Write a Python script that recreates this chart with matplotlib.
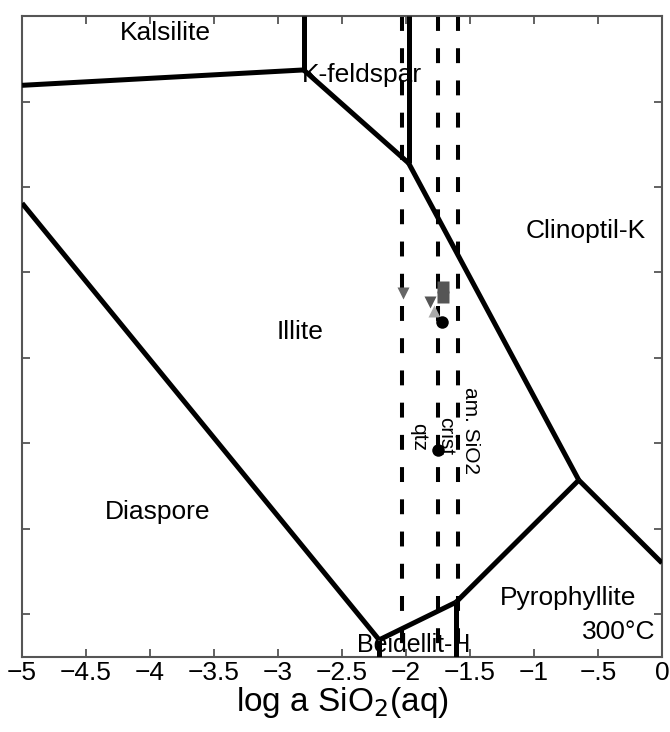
import numpy as np
import matplotlib.pyplot as plt

plt.rcParams['font.family'] = ['Liberation Sans', 'DejaVu Sans']

# phase boundaries (log a SiO2, log aK+/aH+)
kals_kfs_x = [-5.0, -2.80]
kals_kfs_y = [8.19, 8.37]
kals_top_x = [-2.80, -2.80]
kals_top_y = [8.37, 9.0]
kfs_ill_x = [-2.80, -1.98]
kfs_ill_y = [8.37, 7.28]
kfs_clin_x = [-1.98, -1.98]
kfs_clin_y = [7.28, 9.0]
ill_clin_x = [-1.98, -0.65]
ill_clin_y = [7.28, 3.57]
clin_pyr_x = [-0.65, 0.0]
clin_pyr_y = [3.57, 2.60]
ill_pyr_x = [-0.65, -1.61]
ill_pyr_y = [3.57, 2.14]
ill_beid_x = [-1.61, -2.21]
ill_beid_y = [2.14, 1.70]
beid_pyr_x = [-1.61, -1.61]
beid_pyr_y = [2.14, 1.5]
dia_beid_x = [-2.21, -2.21]
dia_beid_y = [1.70, 1.5]
dia_ill_x = [-5.0, -2.21]
dia_ill_y = [6.81, 1.70]

# silica saturation lines
sat_names = ['qtz', 'crist', 'am. SiO2']
sat_x = [-2.03, -1.75, -1.59]

# samples
tri_dn_x, tri_dn_y = [-2.02], [5.76]
sq_x, sq_y = [-1.71, -1.71], [5.83, 5.71]
tri_dk_x, tri_dk_y = [-1.81], [5.65]
tri_up_x, tri_up_y = [-1.78], [5.55]
circ_x, circ_y = [-1.72, -1.75], [5.42, 3.92]

xticks = np.arange(-5, 0.01, 0.5)
xtick_labels = ['−5', '−4.5', '−4', '−3.5', '−3', '−2.5', '−2', '−1.5', '−1', '−.5', '0']
yticks = [2, 3, 4, 5, 6, 7, 8]

fig = plt.figure(figsize=(6.7, 7.32), dpi=100)
ax = fig.add_axes([0.033, 0.1025, 0.955, 0.8755])

for xs, ys in [(kals_kfs_x, kals_kfs_y), (kals_top_x, kals_top_y), (kfs_ill_x, kfs_ill_y),
               (kfs_clin_x, kfs_clin_y), (ill_clin_x, ill_clin_y), (clin_pyr_x, clin_pyr_y),
               (ill_pyr_x, ill_pyr_y), (ill_beid_x, ill_beid_y), (beid_pyr_x, beid_pyr_y),
               (dia_beid_x, dia_beid_y), (dia_ill_x, dia_ill_y)]:
    ax.plot(xs, ys, color='black', lw=3.6, solid_capstyle='butt', clip_on=True, zorder=3)

for x in sat_x:
    ax.plot([x, x], [9.0, 1.5], color='black', lw=2.9, dashes=(3.7, 4.3),
            dash_capstyle='butt', zorder=2)

ax.text(-1.90, 4.07, sat_names[0], rotation=270, fontsize=15, ha='center', va='center')
ax.text(-1.69, 4.08, sat_names[1], rotation=270, fontsize=15, ha='center', va='center')
ax.text(-1.50, 4.15, sat_names[2], rotation=270, fontsize=15, ha='center', va='center')

ax.plot(tri_dn_x, tri_dn_y, 'v', color='#666666', ms=9, mec='none', zorder=4)
ax.plot(sq_x, sq_y, 's', color='#555555', ms=9, mec='none', zorder=4)
ax.plot(tri_dk_x, tri_dk_y, 'v', color='#555555', ms=9, mec='none', zorder=4)
ax.plot(tri_up_x, tri_up_y, '^', color='#aaaaaa', ms=9, mec='none', zorder=4)
ax.plot(circ_x, circ_y, 'o', color='black', ms=9, mec='none', zorder=5)

lab = dict(fontsize=19, ha='center', va='center', zorder=6)
ax.text(-3.88, 8.8, 'Kalsilite', **lab)
ax.text(-2.81, 8.31, 'K-feldspar', fontsize=19, ha='left', va='center', zorder=6)
ax.text(-0.595, 6.49, 'Clinoptil-K', **lab)
ax.text(-2.83, 5.3, 'Illite', **lab)
ax.text(-3.94, 3.2, 'Diaspore', **lab)
ax.text(-0.735, 2.19, 'Pyrophyllite', **lab)
ax.text(-0.05, 1.79, '300°C', fontsize=19, ha='right', va='center', zorder=6)
ax.text(-1.94, 1.64, 'Beidellit-H', fontsize=18, ha='center', va='center', zorder=6)

ax.set_xlim(-5, 0)
ax.set_ylim(1.5, 9.0)
ax.set_xticks(xticks)
ax.set_xticklabels(xtick_labels, fontsize=19)
ax.set_yticks(yticks)
ax.set_yticklabels([])
ax.tick_params(direction='in', length=6, width=1.3, color='#555555',
               top=True, right=True, pad=3)
for s in ax.spines.values():
    s.set_color('#555555')
    s.set_linewidth(1.5)

ax.set_xlabel('log a SiO$_2$(aq)', fontsize=24, labelpad=0)

fig.savefig('out.png', dpi=100)
